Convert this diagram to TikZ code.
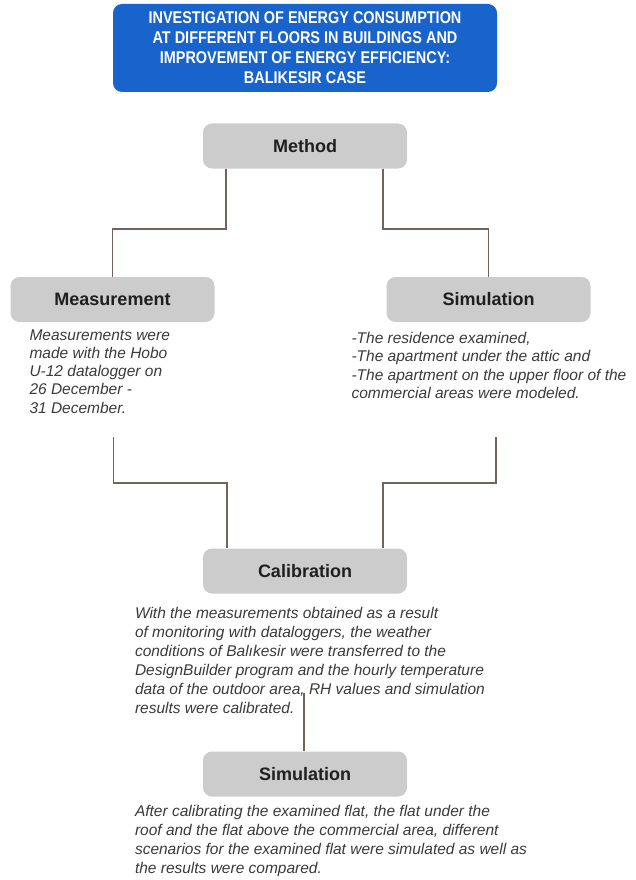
\documentclass[tikz,border=0pt]{standalone}
\usepackage{fontspec}
\setmainfont{Liberation Sans}
\newfontfamily\titlefont{Liberation Sans}[FakeStretch=0.85]
\usetikzlibrary{positioning}

\definecolor{titleblue}{RGB}{24,100,204}
\definecolor{boxgray}{RGB}{204,204,204}
\definecolor{linkcol}{RGB}{114,100,92}
\definecolor{notecol}{RGB}{58,58,58}

\tikzset{
  titlebox/.style={fill=titleblue, rounded corners=9pt, minimum width=384pt,
    minimum height=88pt, align=center, text=white,
    font=\titlefont\bfseries\fontsize{17}{20}\selectfont},
  stage/.style={fill=boxgray, rounded corners=9pt, minimum width=204pt,
    minimum height=45pt, text={black!88}, font=\bfseries\fontsize{18}{20}\selectfont},
  note/.style={inner sep=0pt, align=left, text=notecol,
    font=\itshape\fontsize{15.5}{18.3}\selectfont},
  widenote/.style={note, font=\itshape\fontsize{15.5}{19}\selectfont},
  link/.style={draw=linkcol, line width=1.8pt}
}

\begin{document}
\begin{tikzpicture}[x=1pt, y=-1pt]
  \useasboundingbox (0,0) rectangle (635,880);

  \node[titlebox] (title) at (305,48) {INVESTIGATION OF ENERGY CONSUMPTION\\
    AT DIFFERENT FLOORS IN BUILDINGS AND\\
    IMPROVEMENT OF ENERGY EFFICIENCY:\\
    BALIKESIR CASE};

  \node[stage] (method) at (305,146) {Method};
  \node[stage] (meas) at (112.5,299.5) {Measurement};
  \node[stage] (sim) at (488.5,299.5) {Simulation};
  \node[stage] (calib) at (305,571) {Calibration};
  \node[stage] (simtwo) at (305,774) {Simulation};

  % notes under the boxes
  \node[note, below right=7pt and 19pt of meas.south west] (measnote)
    {Measurements were\\ made with the Hobo\\ U-12 datalogger on\\
     26 December -\\ 31 December.};
  \node[note, below right=10pt and -35pt of sim.south west] (simnote)
    {-The residence examined,\\ -The apartment under the attic and\\
     -The apartment on the upper floor of the\\ commercial areas were modeled.};
  \node[widenote, below right=13pt and -68pt of calib.south west] (calibnote)
    {With the measurements obtained as a result\\
     of monitoring with dataloggers, the weather\\
     conditions of Bal\i kesir were transferred to the\\
     DesignBuilder program and the hourly temperature\\
     data of the outdoor area, RH values and simulation\\
     results were calibrated.};
  \node[widenote, below right=8pt and -68pt of simtwo.south west] (simtwonote)
    {After calibrating the examined flat, the flat under the\\
     roof and the flat above the commercial area, different\\
     scenarios for the examined flat were simulated as well as\\
     the results were compared.};

  \coordinate (measend) at (113.5,437);
  \coordinate (simend) at (496,437);
  \coordinate (calibend) at (304,693);

  % connectors
  \draw[link] ([xshift=-79pt]method.south) |- ([yshift=48pt]meas.north) -- (meas.north);
  \draw[link] ([xshift=78pt]method.south) |- ([yshift=48pt]sim.north) -- (sim.north);
  \draw[link] (measend) |- ([xshift=-78pt,yshift=65pt]calib.north) -- ([xshift=-78pt]calib.north);
  \draw[link] (simend) |- ([xshift=78pt,yshift=65pt]calib.north) -- ([xshift=78pt]calib.north);
  \draw[link] (calibend) -- (calibend |- simtwo.north);
\end{tikzpicture}
\end{document}
